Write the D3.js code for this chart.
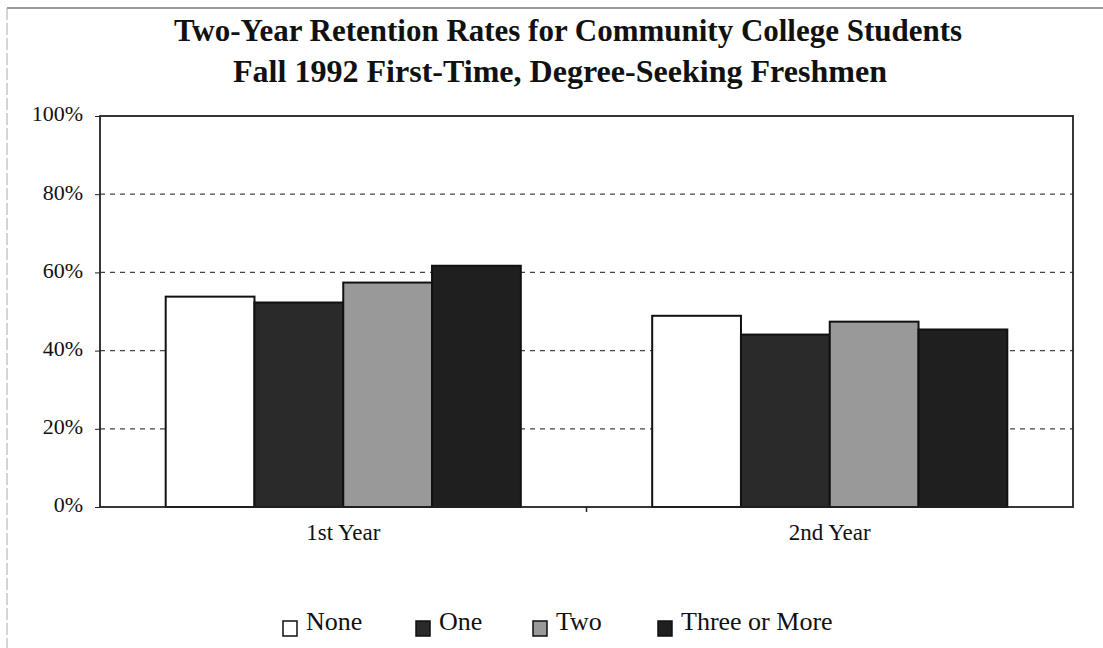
<!DOCTYPE html>
<html>
<head>
<meta charset="utf-8">
<script src="https://cdn.jsdelivr.net/npm/d3@7"></script>
<style>
  body { margin: 0; background: #fff; }
  text { font-family: "Liberation Serif", "Times New Roman", serif; fill: #111; }
</style>
</head>
<body>
<div id="frame_div"></div>
<script>
// chart data
const years = ["1st Year", "2nd Year"];
const groups = ["None", "One", "Two", "Three or More"];
const noneVals = [53.8, 48.9];
const oneVals = [52.3, 44.1];
const twoVals = [57.4, 47.4];
const threeVals = [61.7, 45.4];
const yTicks = [0, 20, 40, 60, 80, 100];

const FRAME_WIDTH = 1103;
const FRAME_HEIGHT = 648;
const MARGINS = {left: 100, right: 30, top: 116, bottom: 141};

const colors = {"None": "#ffffff", "One": "#2a2a2a", "Two": "#999999", "Three or More": "#1f1f1f"};

const rows = years.map((y, i) => ({
  year: y,
  vals: [noneVals[i], oneVals[i], twoVals[i], threeVals[i]]
}));

const FRAME = d3.select("#frame_div")
  .append("svg")
    .attr("width", FRAME_WIDTH)
    .attr("height", FRAME_HEIGHT);

// outer border (scan edge)
FRAME.append("line")
  .attr("x1", 7).attr("x2", FRAME_WIDTH).attr("y1", 8).attr("y2", 8)
  .attr("stroke", "#777").attr("stroke-width", 1.5);
FRAME.append("line")
  .attr("x1", 7).attr("x2", 7).attr("y1", 8).attr("y2", FRAME_HEIGHT)
  .attr("stroke", "#aaa").attr("stroke-width", 1)
  .attr("stroke-dasharray", "12,3");

// title
FRAME.append("text")
  .attr("x", 568).attr("y", 41)
  .attr("text-anchor", "middle")
  .attr("font-size", 31).attr("font-weight", "bold")
  .attr("textLength", 788).attr("lengthAdjust", "spacingAndGlyphs")
  .text("Two-Year Retention Rates for Community College Students");
FRAME.append("text")
  .attr("x", 560).attr("y", 82)
  .attr("text-anchor", "middle")
  .attr("font-size", 31).attr("font-weight", "bold")
  .attr("textLength", 654).attr("lengthAdjust", "spacingAndGlyphs")
  .text("Fall 1992 First-Time, Degree-Seeking Freshmen");

const VIS_W = FRAME_WIDTH - MARGINS.left - MARGINS.right;
const VIS_H = FRAME_HEIGHT - MARGINS.top - MARGINS.bottom;

const X0 = d3.scaleBand().domain(years)
  .range([MARGINS.left, MARGINS.left + VIS_W]).padding(0);
const X1 = d3.scaleBand().domain(groups)
  .range([0, X0.bandwidth()]).paddingInner(0).paddingOuter(0.74);
const Y = d3.scaleLinear().domain([0, 100])
  .range([MARGINS.top + VIS_H, MARGINS.top]);

// dashed gridlines
FRAME.selectAll(".grid")
  .data(yTicks.filter(d => d > 0 && d < 100))
  .enter().append("line")
    .attr("x1", MARGINS.left).attr("x2", MARGINS.left + VIS_W)
    .attr("y1", d => Y(d)).attr("y2", d => Y(d))
    .attr("stroke", "#444").attr("stroke-width", 1.3)
    .attr("stroke-dasharray", "5,5");

// bars
const g = FRAME.selectAll(".yr")
  .data(rows).enter().append("g")
    .attr("transform", d => "translate(" + X0(d.year) + ",0)");
g.selectAll("rect")
  .data(d => d.vals.map((v, i) => ({k: groups[i], v: v})))
  .enter().append("rect")
    .attr("x", d => X1(d.k))
    .attr("y", d => Y(d.v))
    .attr("width", X1.bandwidth())
    .attr("height", d => Y(0) - Y(d.v))
    .attr("fill", d => colors[d.k])
    .attr("stroke", "#111")
    .attr("stroke-width", 2);

// plot frame
FRAME.append("rect")
  .attr("x", MARGINS.left).attr("y", MARGINS.top)
  .attr("width", VIS_W).attr("height", VIS_H)
  .attr("fill", "none").attr("stroke", "#222").attr("stroke-width", 1.8);

// y axis
const yAxis = d3.axisLeft(Y).tickValues(yTicks)
  .tickFormat(d => d + "%").tickSize(5).tickPadding(12);
const ya = FRAME.append("g")
  .attr("transform", "translate(" + MARGINS.left + ",0)")
  .call(yAxis);
ya.select(".domain").remove();
ya.selectAll("line").attr("stroke", "#222");
ya.selectAll("text")
  .attr("font-size", 22)
  .attr("font-family", "Liberation Serif, serif")
  .attr("dy", "0.22em")
  .attr("fill", "#111");

// x axis
const xAxis = d3.axisBottom(X0).tickSize(0).tickPadding(17);
const xa = FRAME.append("g")
  .attr("transform", "translate(0," + (MARGINS.top + VIS_H) + ")")
  .call(xAxis);
xa.select(".domain").remove();
xa.selectAll("text")
  .attr("font-size", 23)
  .attr("font-family", "Liberation Serif, serif")
  .attr("fill", "#111");
// category divider tick
FRAME.append("line")
  .attr("x1", X0("2nd Year")).attr("x2", X0("2nd Year"))
  .attr("y1", Y(0)).attr("y2", Y(0) + 5)
  .attr("stroke", "#222").attr("stroke-width", 1.5);

// legend
const legendX = [283, 416, 533, 658];
const leg = FRAME.selectAll(".leg")
  .data(groups).enter().append("g")
    .attr("transform", (d, i) => "translate(" + legendX[i] + ",621)");
leg.append("rect")
  .attr("width", 14).attr("height", 15)
  .attr("fill", d => colors[d])
  .attr("stroke", "#111").attr("stroke-width", 1.5);
leg.append("text")
  .attr("x", 23)
  .attr("y", 9)
  .attr("font-size", 26)
  .text(d => d);
</script>
</body>
</html>
